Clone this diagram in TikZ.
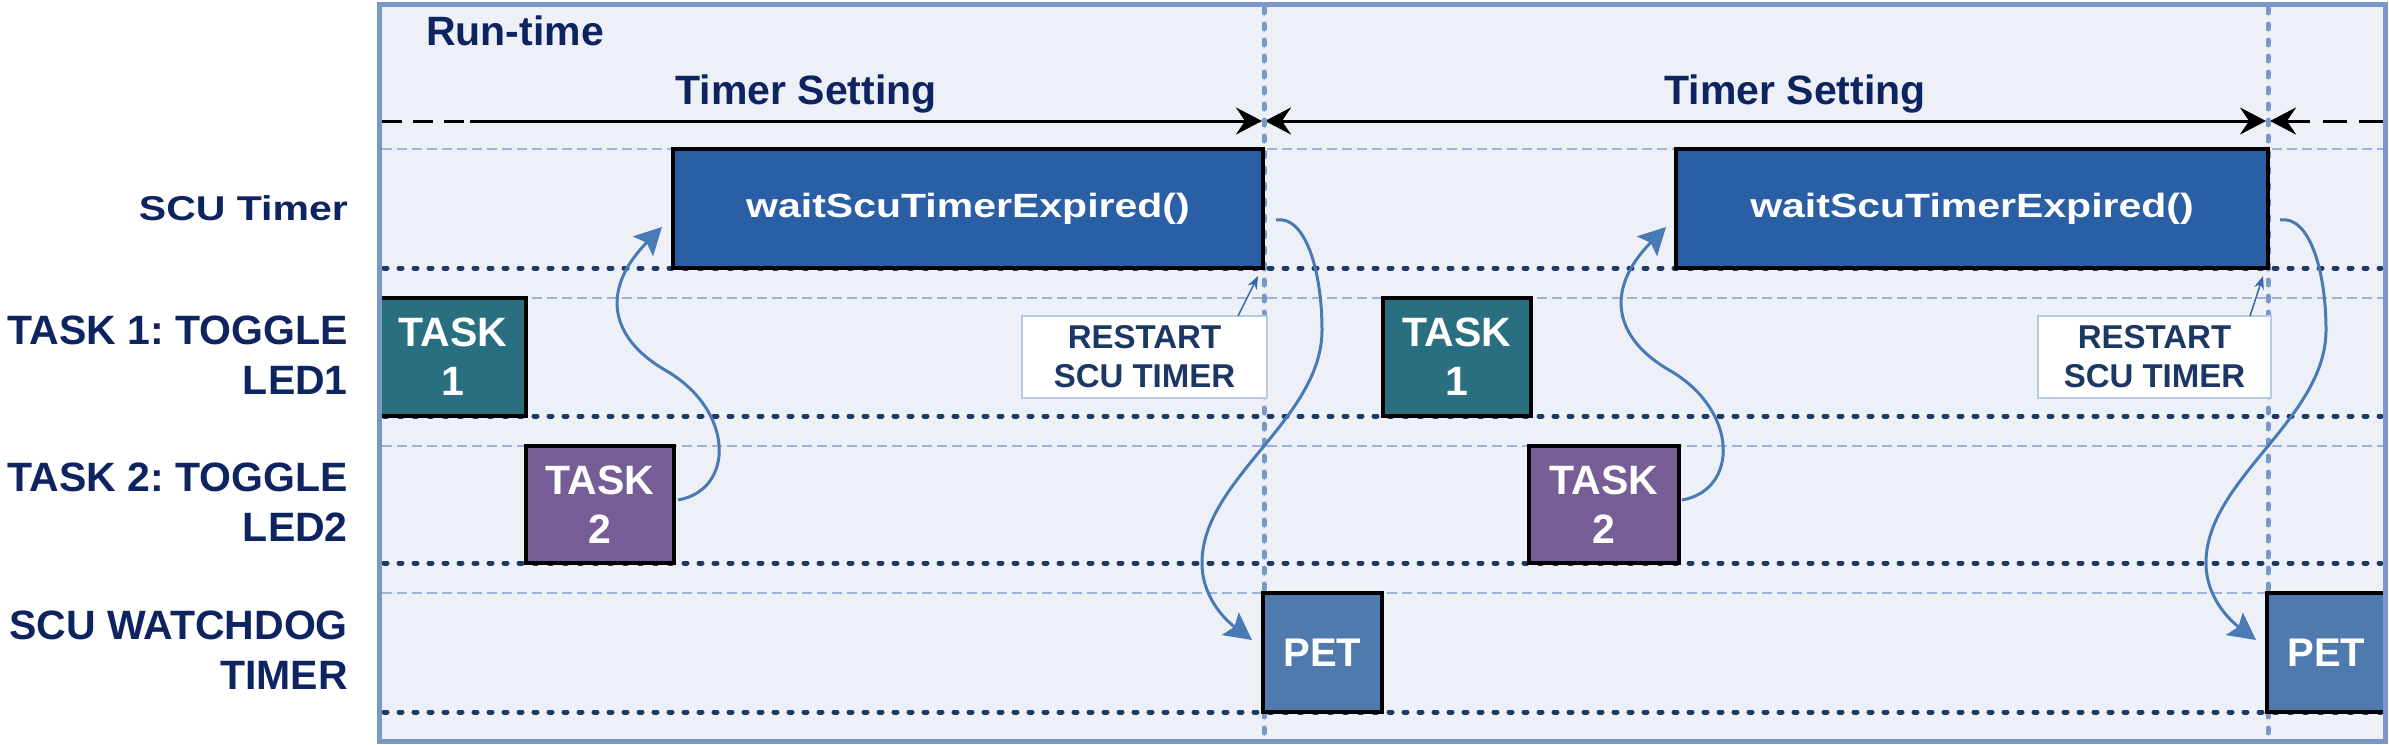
\documentclass[tikz,border=0pt]{standalone}
\usepackage{fontspec}
\setmainfont{Liberation Sans}
\usepackage{graphicx}
\usetikzlibrary{arrows.meta}
\frenchspacing
\definecolor{navy}{HTML}{0D2460}
\definecolor{rstxt}{HTML}{1B3763}
\definecolor{framebg}{HTML}{EDF1F7}
\definecolor{frameln}{HTML}{7A98C7}
\definecolor{wsblue}{HTML}{2A5FA6}
\definecolor{tealc}{HTML}{2A6F80}
\definecolor{purpc}{HTML}{765D96}
\definecolor{petblue}{HTML}{4F7AAE}
\definecolor{dotdark}{HTML}{1B3A66}
\definecolor{lightdash}{HTML}{9BB4D8}
\definecolor{vlinec}{HTML}{7899C8}
\definecolor{curvec}{HTML}{4A7AB5}
\definecolor{rsarrc}{HTML}{3566A8}
\definecolor{rsborder}{HTML}{B8CBE4}
\tikzset{
  bigtip/.tip={Stealth[length=26pt,width=27pt,inset=9pt]},
  curvetip/.tip={Stealth[length=27pt,width=28pt,inset=5pt]},
  smalltip/.tip={Stealth[length=13pt,width=10pt]}
}
\begin{document}
\begin{tikzpicture}[x=1pt,y=-1pt,
  lbl/.style={font=\bfseries\fontsize{41}{50}\selectfont, text=navy, inner sep=0pt, anchor=east, align=right},
  ttl/.style={font=\bfseries\fontsize{41}{50}\selectfont, text=navy, inner sep=0pt},
  barbox/.style={draw=black, line width=3.5pt, inner sep=0pt, text=white, font=\bfseries\fontsize{41}{49}\selectfont, align=center},
  rsbox/.style={draw=rsborder, line width=1.5pt, fill=white, inner sep=0pt, minimum height=82pt, text=rstxt, font=\bfseries\fontsize{33}{39}\selectfont, align=center},
  rowdot/.style={draw=dotdark, line width=5pt, line cap=round, dash pattern=on 3pt off 12pt},
  rowdash/.style={draw=lightdash, line width=1.5pt, dash pattern=on 10pt off 5pt},
  vdot/.style={draw=vlinec, line width=5pt, line cap=round, dash pattern=on 5pt off 11pt},
  spanline/.style={draw=black, line width=3pt},
  curvy/.style={draw=curvec, line width=3pt, -{curvetip}},
  rsarr/.style={draw=rsarrc, fill=rsarrc, line width=1.5pt, -{smalltip}}
]
\useasboundingbox (0,0) rectangle (2389,744);
\fill[framebg] (379,4) rectangle (2385,741);

% row guide lines
\foreach \yy in {149,298,446,593} \draw[rowdash] (382,\yy) -- (2383,\yy);
\foreach \yy in {268,416,563,712} \draw[rowdot] (384,\yy) -- (2381,\yy);

% timer setting spans
\coordinate (sa) at (382,121);
\coordinate (sb) at (470,121);
\coordinate (sc) at (1262,121);
\coordinate (sd) at (1265,121);
\coordinate (se) at (2266,121);
\coordinate (sf) at (2270,121);
\coordinate (sg) at (2310,121);
\coordinate (sh) at (2323,121);
\coordinate (si) at (2385,121);
\draw[spanline, dash pattern=on 20pt off 11pt] (sa) -- (sb);
\draw[spanline, -{bigtip}] (sb) -- (sc);
\draw[spanline, {bigtip}-{bigtip}] (sd) -- (se);
\draw[spanline, -{bigtip}] (sg) -- (sf);
\draw[spanline, dash pattern=on 24pt off 12pt] (sh) -- (si);

% vertical period markers
\coordinate (v1t) at (1264,8); \coordinate (v1b) at (1264,735);
\coordinate (v2t) at (2268,8); \coordinate (v2b) at (2268,735);
\draw[vdot] (v1t) -- (v1b);
\draw[vdot] (v2t) -- (v2b);

% titles
\node[ttl, anchor=base west] (rt) at (426,45) {Run-time};
\node[ttl, anchor=base] (ts1) at (806,104) {Timer Setting};
\node[ttl, anchor=base] (ts2) at (1795,104) {Timer Setting};

% row labels
\node[lbl] (l1) at (348,208) {\scalebox{1}[0.84]{SCU Timer}};
\node[lbl] (l2) at (348,355) {TASK 1: TOGGLE\\LED1};
\node[lbl] (l3) at (348,502) {TASK 2: TOGGLE\\LED2};
\node[lbl] (l4) at (348,650) {SCU WATCHDOG\\TIMER};

% period 1
\node[barbox, fill=wsblue, minimum width=590pt, minimum height=119pt] (ws1) at (968,208.5) {\scalebox{1}[0.82]{waitScuTimerExpired()}};
\node[barbox, fill=tealc, minimum width=146pt, minimum height=118pt] (t1a) at (453,357) {TASK\\1};
\node[barbox, fill=purpc, minimum width=148pt, minimum height=117pt] (t2a) at (600,504.5) {TASK\\2};
\node[barbox, fill=petblue, minimum width=119pt, minimum height=119pt, font=\bfseries\fontsize{40}{48}\selectfont] (pet1) at (1322.5,652.5) {PET};
\node[rsbox, minimum width=245pt] (rs1) at (1144.5,357) {RESTART\\SCU TIMER};

% period 2
\node[barbox, fill=wsblue, minimum width=592pt, minimum height=119pt] (ws2) at (1972,208.5) {\scalebox{1}[0.82]{waitScuTimerExpired()}};
\node[barbox, fill=tealc, minimum width=148pt, minimum height=118pt] (t1b) at (1457,357) {TASK\\1};
\node[barbox, fill=purpc, minimum width=150pt, minimum height=117pt] (t2b) at (1604,504.5) {TASK\\2};
\node[barbox, fill=petblue, minimum width=119pt, minimum height=119pt, font=\bfseries\fontsize{40}{48}\selectfont] (pet2) at (2326.5,652.5) {PET};
\node[rsbox, minimum width=233pt] (rs2) at (2154.5,357) {RESTART\\SCU TIMER};

% curvy arrows, period 1
\coordinate (c1s) at (678,500);
\coordinate (c1e) at (662,227);
\draw[curvy] (c1s) .. controls (735,490) and (735,410) .. (665,370) .. controls (610,338) and (600,290) .. (c1e);
\coordinate (c2s) at (1276,220);
\coordinate (c2e) at (1252,640);
\draw[curvy] (c2s) .. controls (1305,215) and (1322,270) .. (1322,330) .. controls (1322,420) and (1200,480) .. (1202,565) .. controls (1203,600) and (1228,622) .. (c2e);

% curvy arrows, period 2
\begin{scope}[xshift=1004pt]
\coordinate (c3s) at (678,500);
\coordinate (c3e) at (662,227);
\draw[curvy] (c3s) .. controls (735,490) and (735,410) .. (665,370) .. controls (610,338) and (600,290) .. (c3e);
\coordinate (c4s) at (1276,220);
\coordinate (c4e) at (1252,640);
\draw[curvy] (c4s) .. controls (1305,215) and (1322,270) .. (1322,330) .. controls (1322,420) and (1200,480) .. (1202,565) .. controls (1203,600) and (1228,622) .. (c4e);
\end{scope}

% restart arrows
\coordinate (r1s) at (1238,316); \coordinate (r1e) at (1258,276);
\coordinate (r2s) at (2250,316); \coordinate (r2e) at (2263,276);
\draw[rsarr] (r1s) -- (r1e);
\draw[rsarr] (r2s) -- (r2e);

% frame
\draw[frameln, line width=5pt] (379,4) rectangle (2385,741);
\end{tikzpicture}
\end{document}
